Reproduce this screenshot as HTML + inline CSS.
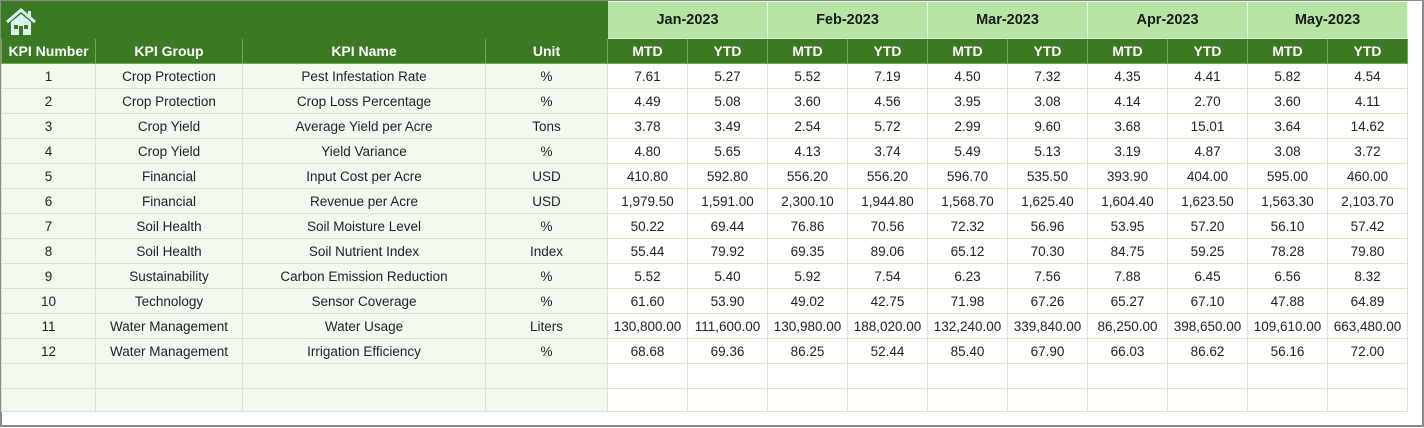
<!DOCTYPE html>
<html><head><style>
body{margin:0;width:1424px;height:428px;background:#fff;position:relative;overflow:hidden;font-family:"Liberation Sans",Arial,sans-serif}
.frame{position:absolute;left:0;top:0;width:1420px;height:424px;border:2px solid #8a8a8a;border-top:1px solid #8a8a8a}
table{position:absolute;left:1px;top:1px;border-collapse:collapse;table-layout:fixed}
td{padding:0;text-align:center;font-size:13.5px;color:#222;border:1px solid #d6e6c6;height:24px;white-space:nowrap;overflow:hidden}
tr.h1 td{height:36px}
tr.last td{height:22px}
.dg{background:#3b7a22;color:#fff;font-weight:bold;font-size:14px;border-color:#6ea85a}
.lg{background:#b7e4a4;color:#1a1a1a;font-weight:bold;font-size:14.5px;border-color:#e8f5e0}
.l{background:#f3f9ee}
</style></head><body>
<div class="frame"></div>
<table>
<colgroup><col style="width:94px"><col style="width:147px"><col style="width:243px"><col style="width:122px"><col span="10" style="width:80px"></colgroup>
<tr class="h1"><td colspan="4" class="dg" style="text-align:left;border-color:#3b7a22"><svg width="32" height="30" viewBox="0 0 32 30" style="margin-left:3px;margin-top:3px;display:block"><path d="M2 15 L16 3 L30 15" stroke="#d9f2f0" stroke-width="3" fill="none"/><rect x="23" y="4" width="3" height="7" fill="#d9f2f0"/><path d="M6 15 L16 7 L26 15 V28 H6Z" fill="#d9f2f0"/><rect x="9" y="18" width="4" height="4" fill="#3b7a22"/><rect x="19" y="18" width="4" height="4" fill="#3b7a22"/><rect x="14" y="19" width="4" height="9" fill="#3b7a22"/></svg></td>
<td colspan="2" class="lg">Jan-2023</td><td colspan="2" class="lg">Feb-2023</td><td colspan="2" class="lg">Mar-2023</td><td colspan="2" class="lg">Apr-2023</td><td colspan="2" class="lg">May-2023</td></tr>
<tr><td class="dg">KPI Number</td><td class="dg">KPI Group</td><td class="dg">KPI Name</td><td class="dg">Unit</td>
<td class="dg">MTD</td><td class="dg">YTD</td><td class="dg">MTD</td><td class="dg">YTD</td><td class="dg">MTD</td><td class="dg">YTD</td><td class="dg">MTD</td><td class="dg">YTD</td><td class="dg">MTD</td><td class="dg">YTD</td></tr>
<tr><td class="l">1</td><td class="l">Crop Protection</td><td class="l">Pest Infestation Rate</td><td class="l">%</td><td>7.61</td><td>5.27</td><td>5.52</td><td>7.19</td><td>4.50</td><td>7.32</td><td>4.35</td><td>4.41</td><td>5.82</td><td>4.54</td></tr>
<tr><td class="l">2</td><td class="l">Crop Protection</td><td class="l">Crop Loss Percentage</td><td class="l">%</td><td>4.49</td><td>5.08</td><td>3.60</td><td>4.56</td><td>3.95</td><td>3.08</td><td>4.14</td><td>2.70</td><td>3.60</td><td>4.11</td></tr>
<tr><td class="l">3</td><td class="l">Crop Yield</td><td class="l">Average Yield per Acre</td><td class="l">Tons</td><td>3.78</td><td>3.49</td><td>2.54</td><td>5.72</td><td>2.99</td><td>9.60</td><td>3.68</td><td>15.01</td><td>3.64</td><td>14.62</td></tr>
<tr><td class="l">4</td><td class="l">Crop Yield</td><td class="l">Yield Variance</td><td class="l">%</td><td>4.80</td><td>5.65</td><td>4.13</td><td>3.74</td><td>5.49</td><td>5.13</td><td>3.19</td><td>4.87</td><td>3.08</td><td>3.72</td></tr>
<tr><td class="l">5</td><td class="l">Financial</td><td class="l">Input Cost per Acre</td><td class="l">USD</td><td>410.80</td><td>592.80</td><td>556.20</td><td>556.20</td><td>596.70</td><td>535.50</td><td>393.90</td><td>404.00</td><td>595.00</td><td>460.00</td></tr>
<tr><td class="l">6</td><td class="l">Financial</td><td class="l">Revenue per Acre</td><td class="l">USD</td><td>1,979.50</td><td>1,591.00</td><td>2,300.10</td><td>1,944.80</td><td>1,568.70</td><td>1,625.40</td><td>1,604.40</td><td>1,623.50</td><td>1,563.30</td><td>2,103.70</td></tr>
<tr><td class="l">7</td><td class="l">Soil Health</td><td class="l">Soil Moisture Level</td><td class="l">%</td><td>50.22</td><td>69.44</td><td>76.86</td><td>70.56</td><td>72.32</td><td>56.96</td><td>53.95</td><td>57.20</td><td>56.10</td><td>57.42</td></tr>
<tr><td class="l">8</td><td class="l">Soil Health</td><td class="l">Soil Nutrient Index</td><td class="l">Index</td><td>55.44</td><td>79.92</td><td>69.35</td><td>89.06</td><td>65.12</td><td>70.30</td><td>84.75</td><td>59.25</td><td>78.28</td><td>79.80</td></tr>
<tr><td class="l">9</td><td class="l">Sustainability</td><td class="l">Carbon Emission Reduction</td><td class="l">%</td><td>5.52</td><td>5.40</td><td>5.92</td><td>7.54</td><td>6.23</td><td>7.56</td><td>7.88</td><td>6.45</td><td>6.56</td><td>8.32</td></tr>
<tr><td class="l">10</td><td class="l">Technology</td><td class="l">Sensor Coverage</td><td class="l">%</td><td>61.60</td><td>53.90</td><td>49.02</td><td>42.75</td><td>71.98</td><td>67.26</td><td>65.27</td><td>67.10</td><td>47.88</td><td>64.89</td></tr>
<tr><td class="l">11</td><td class="l">Water Management</td><td class="l">Water Usage</td><td class="l">Liters</td><td>130,800.00</td><td>111,600.00</td><td>130,980.00</td><td>188,020.00</td><td>132,240.00</td><td>339,840.00</td><td>86,250.00</td><td>398,650.00</td><td>109,610.00</td><td>663,480.00</td></tr>
<tr><td class="l">12</td><td class="l">Water Management</td><td class="l">Irrigation Efficiency</td><td class="l">%</td><td>68.68</td><td>69.36</td><td>86.25</td><td>52.44</td><td>85.40</td><td>67.90</td><td>66.03</td><td>86.62</td><td>56.16</td><td>72.00</td></tr>
<tr><td class="l"></td><td class="l"></td><td class="l"></td><td class="l"></td><td></td><td></td><td></td><td></td><td></td><td></td><td></td><td></td><td></td><td></td></tr>
<tr class="last"><td class="l"></td><td class="l"></td><td class="l"></td><td class="l"></td><td></td><td></td><td></td><td></td><td></td><td></td><td></td><td></td><td></td><td></td></tr>
</table>
</body></html>
